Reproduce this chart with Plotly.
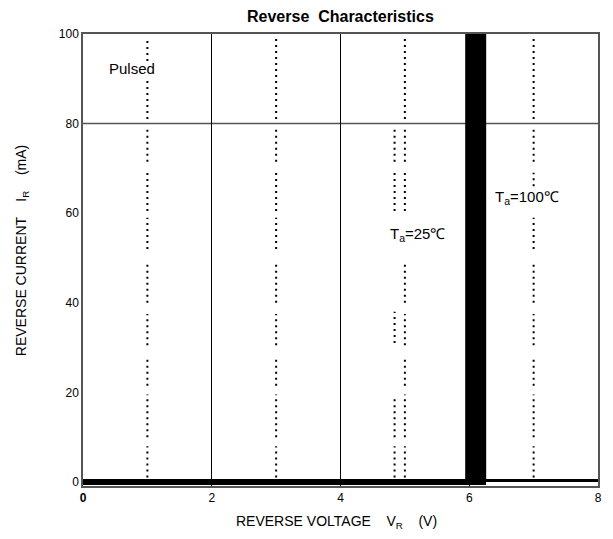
import plotly.graph_objects as go

# ---- data ----
X_TICKS = [0, 2, 4, 6, 8]
X_TICKTEXT = ["<b>0</b>", "2", "4", "6", "8"]
Y_TICKS = [0, 20, 40, 60, 80, 100]
Y_GRID = [80]

# Ta = 25 C curve : flat at zero, then breakdown near 6.1 V
V_25_FLAT = [0.0, 6.26]
I_25_FLAT = [0.0, 0.0]
V_25_BREAK = [6.1, 6.1]
I_25_BREAK = [0.0, 100.0]
# Ta = 100 C tail
V_100 = [6.26, 8.0]
I_100 = [0.3, 0.3]

# dotted guide columns (x position, list of [y_start, y_end] segments)
DOT_COLUMNS = {
    1.0: [(1, 8), (10, 19.5), (21.5, 28), (30.5, 37.5), (40, 49), (52, 59), (60.5, 69), (71.5, 79), (81, 90), (94, 98.5)],
    3.0: [(1, 8), (10, 19.5), (21.5, 28), (30.5, 37.5), (40, 49), (52, 59), (60.5, 69), (71.5, 79), (81, 99)],
    4.84: [(1, 8), (10, 19), (31, 38), (60.5, 69), (71.5, 79)],
    5.0: [(1, 8), (10, 19.5), (21.5, 28), (30.5, 37.5), (40, 49), (60.5, 69), (71.5, 79), (81, 99)],
    7.0: [(1, 8), (10, 19.5), (21.5, 28), (30.5, 37.5), (40, 49), (52, 59), (66, 69), (71.5, 79), (81, 99)],
}

ANNOTATIONS = [
    (0.76, 92.4, "Pulsed"),
    (5.19, 55.3, "T<sub>a</sub>=25℃"),
    (6.89, 63.6, "T<sub>a</sub>=100℃"),
]

X_TITLE = "REVERSE VOLTAGE    V<sub>R</sub>    (V)"
Y_TITLE = "REVERSE CURRENT    I<sub>R</sub>    (mA)"
TITLE = "<b>Reverse  Characteristics</b>"

FONT = "Liberation Sans, Arial, sans-serif"

fig = go.Figure()

for xv, segs in DOT_COLUMNS.items():
    xs, ys = [], []
    for a, b in segs:
        xs += [xv, xv, None]
        ys += [a, b, None]
    fig.add_trace(go.Scatter(x=xs, y=ys, mode="lines",
                             line=dict(color="black", width=2, dash="2px,4px"),
                             showlegend=False, hoverinfo="skip"))

fig.add_trace(go.Scatter(x=V_25_FLAT, y=I_25_FLAT, mode="lines",
                         line=dict(color="black", width=6), showlegend=False))
fig.add_trace(go.Scatter(x=V_100, y=I_100, mode="lines",
                         line=dict(color="black", width=3), showlegend=False))
fig.add_trace(go.Scatter(x=V_25_BREAK, y=I_25_BREAK, mode="lines",
                         line=dict(color="black", width=21), showlegend=False))

for gy in Y_GRID:
    fig.add_shape(type="line", xref="x", yref="y", x0=0, x1=8, y0=gy, y1=gy,
                  line=dict(color="#555555", width=1.5), layer="below")

for ax, ay, txt in ANNOTATIONS:
    fig.add_annotation(x=ax, y=ay, text=txt, showarrow=False,
                       font=dict(family=FONT, size=15, color="black"))

# axis titles and chart title
fig.add_annotation(xref="paper", yref="paper", x=0.492, y=-0.08, yanchor="middle",
                   text=X_TITLE, showarrow=False,
                   font=dict(family=FONT, size=14, color="black"))
fig.add_annotation(xref="paper", yref="paper", x=-0.118, xanchor="center",
                   y=0.52, text=Y_TITLE, textangle=-90, showarrow=False,
                   font=dict(family=FONT, size=14, color="black"))
fig.add_annotation(xref="paper", yref="paper", x=0.5, y=1.038, yanchor="middle",
                   text=TITLE, showarrow=False,
                   font=dict(family=FONT, size=16, color="black"))

# the page body adds an 8px offset, so the figure is 8px smaller on each leading edge
fig.update_layout(
    width=605, height=531,
    margin=dict(l=75, r=15, t=26, b=53),
    paper_bgcolor="white", plot_bgcolor="white",
    font=dict(family=FONT, size=12, color="black"),
    showlegend=False,
)
fig.update_xaxes(range=[0, 8], tickvals=X_TICKS, ticktext=X_TICKTEXT,
                 showgrid=True, gridcolor="black", gridwidth=1,
                 showline=True, mirror=True, linecolor="#555555", linewidth=1.5,
                 zeroline=False, ticks="", automargin=False,
                 tickfont=dict(family=FONT, size=12, color="black"))
fig.update_yaxes(range=[-0.9, 100], tickvals=Y_TICKS,
                 showgrid=False, zeroline=False,
                 showline=True, mirror=True, linecolor="#555555", linewidth=1.5,
                 ticks="", automargin=False,
                 tickfont=dict(family=FONT, size=12, color="black"))

fig.write_html("out.html")
